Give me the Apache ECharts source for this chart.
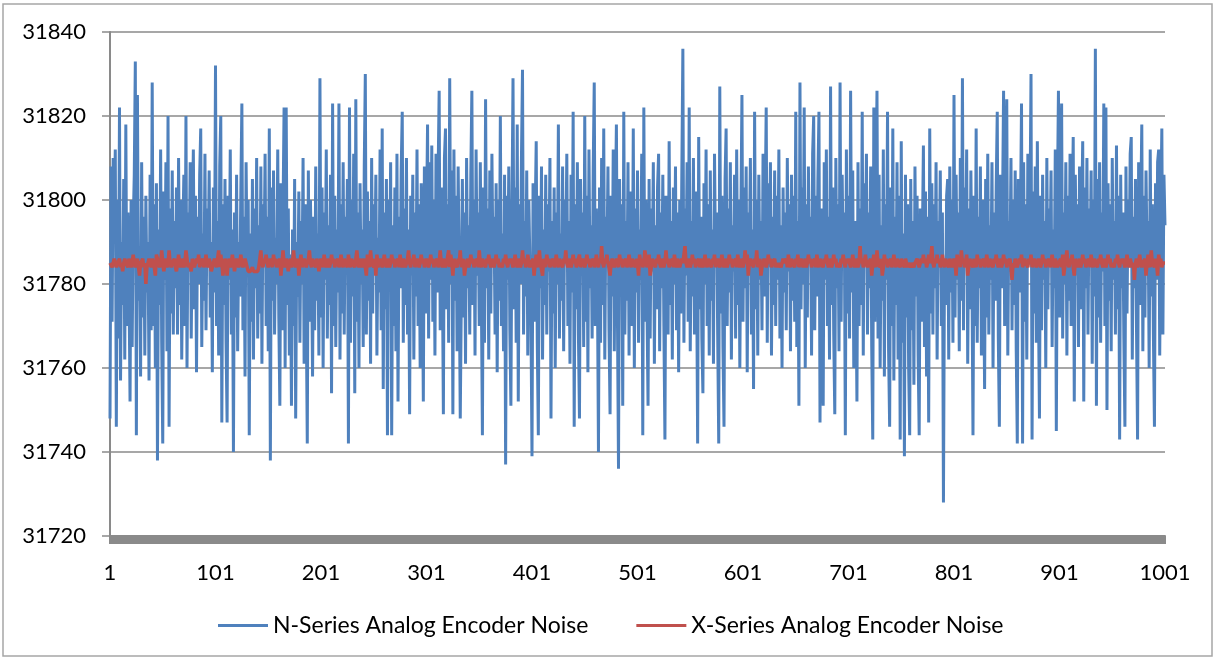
<!DOCTYPE html>
<html>
<head>
<meta charset="utf-8">
<script src="https://cdn.jsdelivr.net/npm/echarts@6/dist/echarts.min.js"></script>
<style>
html,body{margin:0;padding:0;background:#fff;}
#chart{width:1215px;height:659px;}
</style>
</head>
<body>
<div id="chart"></div>
<script>
const seriesNames = ['N-Series Analog Encoder Noise', 'X-Series Analog Encoder Noise'];
const yTicks = [31720, 31740, 31760, 31780, 31800, 31820, 31840];
const sampleCount = 1001;
const categories = [];
for (let i = 1; i <= sampleCount; i++) categories.push(String(i));

const nSeries = [
31748,31808,31771,31810,31795,31812,31746,31800,31767,31822,31757,31790,31775,31805,31762,31818,31770,31797,31780,31752,
31800,31765,31794,31806,31833,31744,31825,31776,31789,31758,31809,31772,31796,31763,31801,31778,31790,31757,31806,31769,
31828,31770,31799,31760,31804,31738,31793,31775,31812,31766,31742,31802,31781,31809,31764,31820,31746,31798,31773,31807,
31768,31795,31779,31803,31768,31810,31775,31800,31762,31791,31806,31770,31820,31760,31797,31783,31809,31767,31794,31812,
31774,31801,31759,31796,31780,31806,31817,31765,31792,31776,31811,31769,31798,31784,31807,31772,31790,31759,31803,31778,
31832,31770,31795,31763,31808,31820,31747,31799,31775,31805,31766,31747,31801,31781,31812,31768,31793,31740,31797,31772,
31806,31764,31790,31777,31802,31823,31769,31796,31758,31809,31783,31800,31744,31792,31771,31805,31762,31798,31779,31810,
31767,31794,31773,31808,31761,31799,31785,31811,31770,31796,31764,31817,31738,31803,31776,31807,31768,31791,31780,31812,
31772,31751,31804,31769,31797,31822,31760,31822,31775,31798,31763,31787,31751,31793,31770,31805,31748,31790,31777,31802,
31766,31795,31780,31810,31761,31799,31774,31742,31807,31771,31800,31785,31758,31796,31769,31808,31776,31792,31763,31829,
31772,31803,31760,31797,31781,31812,31767,31794,31775,31806,31754,31823,31770,31801,31765,31793,31778,31823,31762,31799,
31773,31809,31768,31796,31784,31805,31742,31822,31766,31800,31777,31811,31754,31824,31771,31797,31760,31804,31780,31793,
31765,31808,31830,31768,31802,31776,31795,31761,31810,31773,31799,31784,31806,31763,31791,31778,31812,31769,31817,31755,
31797,31774,31805,31744,31800,31781,31809,31744,31794,31770,31803,31764,31811,31752,31796,31779,31807,31821,31766,31798,
31775,31810,31768,31793,31749,31801,31782,31806,31762,31797,31777,31812,31770,31799,31760,31804,31786,31752,31808,31773,
31795,31818,31767,31809,31781,31813,31771,31800,31763,31811,31778,31806,31826,31769,31803,31785,31749,31810,31817,31774,
31799,31766,31829,31780,31807,31749,31812,31776,31801,31764,31808,31783,31748,31748,31805,31772,31797,31761,31810,31779,
31794,31768,31806,31826,31775,31800,31763,31812,31782,31797,31770,31809,31777,31744,31803,31766,31824,31779,31798,31762,
31807,31773,31811,31785,31796,31768,31804,31759,31800,31776,31820,31770,31792,31764,31806,31737,31801,31781,31808,31769,
31751,31797,31829,31774,31803,31766,31818,31752,31799,31780,31810,31831,31768,31795,31777,31807,31763,31800,31785,31772,
31739,31804,31771,31796,31814,31766,31744,31801,31779,31808,31762,31793,31775,31806,31768,31799,31783,31810,31748,31795,
31773,31803,31760,31797,31780,31818,31767,31792,31776,31808,31764,31800,31786,31811,31770,31795,31761,31806,31778,31821,
31746,31799,31774,31809,31768,31748,31805,31782,31797,31765,31820,31771,31801,31759,31812,31779,31794,31767,31807,31828,
31770,31798,31781,31740,31803,31766,31810,31775,31817,31762,31796,31784,31808,31769,31749,31801,31777,31812,31764,31797,
31818,31772,31736,31805,31780,31799,31751,31821,31768,31795,31776,31809,31763,31802,31785,31770,31817,31760,31798,31778,
31807,31766,31793,31781,31811,31744,31822,31771,31800,31775,31751,31805,31767,31798,31783,31809,31761,31794,31774,31803,
31811,31764,31797,31779,31806,31770,31743,31801,31785,31768,31814,31775,31795,31762,31803,31780,31808,31769,31797,31759,
31800,31773,31806,31836,31766,31798,31782,31809,31771,31822,31764,31795,31777,31810,31768,31802,31785,31742,31815,31774,
31796,31767,31754,31804,31780,31812,31770,31799,31763,31807,31776,31793,31761,31811,31784,31797,31768,31742,31827,31773,
31801,31765,31746,31805,31817,31770,31798,31778,31809,31762,31794,31783,31806,31767,31812,31775,31800,31760,31796,31825,
31771,31803,31779,31808,31759,31797,31785,31810,31768,31793,31755,31821,31774,31800,31763,31806,31781,31795,31769,31811,
31777,31798,31822,31766,31804,31784,31809,31763,31796,31775,31807,31770,31801,31781,31812,31767,31794,31760,31803,31778,
31797,31769,31810,31783,31799,31764,31806,31776,31801,31771,31821,31765,31795,31751,31828,31774,31803,31780,31822,31760,
31799,31772,31808,31785,31796,31763,31811,31820,31769,31801,31777,31805,31821,31747,31798,31766,31751,31809,31781,31812,
31770,31796,31762,31827,31775,31803,31768,31749,31810,31779,31799,31764,31828,31771,31806,31784,31797,31744,31812,31773,
31801,31767,31826,31778,31807,31760,31795,31782,31752,31809,31770,31798,31775,31821,31763,31804,31786,31811,31768,31797,
31779,31808,31765,31743,31822,31771,31800,31826,31767,31806,31760,31794,31776,31812,31758,31799,31781,31821,31764,31746,
31803,31770,31817,31757,31796,31775,31809,31762,31801,31743,31814,31766,31792,31739,31806,31772,31799,31760,31744,31805,
31769,31795,31756,31808,31777,31801,31763,31744,31798,31771,31790,31813,31765,31802,31758,31796,31747,31817,31773,31804,
31768,31799,31779,31809,31762,31795,31784,31807,31770,31797,31728,31786,31775,31801,31805,31762,31808,31778,31800,31766,
31825,31772,31806,31781,31797,31764,31810,31776,31829,31769,31803,31785,31812,31761,31798,31774,31807,31783,31744,31801,
31770,31817,31766,31796,31779,31808,31763,31800,31787,31755,31805,31772,31811,31768,31794,31781,31809,31760,31797,31776,
31803,31821,31767,31746,31806,31779,31798,31826,31770,31801,31824,31763,31795,31783,31810,31769,31800,31775,31807,31764,
31742,31805,31778,31796,31823,31742,31809,31771,31799,31762,31811,31785,31797,31830,31743,31802,31773,31808,31766,31814,
31777,31748,31801,31769,31806,31781,31795,31760,31810,31774,31798,31786,31807,31765,31793,31779,31812,31745,31800,31826,
31772,31804,31823,31767,31797,31780,31809,31763,31801,31776,31811,31770,31795,31815,31752,31806,31782,31799,31765,31808,
31774,31796,31814,31752,31803,31779,31810,31768,31798,31785,31807,31761,31800,31777,31836,31751,31805,31772,31809,31766,
31797,31783,31823,31770,31822,31750,31804,31776,31799,31764,31810,31781,31795,31768,31813,31774,31801,31743,31806,31779,
31797,31767,31746,31808,31773,31800,31784,31811,31815,31762,31796,31779,31805,31769,31743,31809,31775,31798,31818,31764,
31801,31772,31807,31786,31795,31760,31812,31777,31799,31768,31746,31804,31781,31809,31812,31763,31797,31817,31768,31806,
31794
];

const xSeries = [
31785,31785,31784,31785,31786,31785,31784,31785,31785,31786,31784,31785,31783,31785,31786,31785,31785,31784,31786,31785,
31784,31785,31787,31785,31784,31785,31786,31784,31782,31785,31785,31786,31784,31785,31780,31784,31785,31786,31785,31784,
31786,31785,31784,31782,31787,31786,31785,31784,31785,31788,31785,31783,31785,31786,31784,31785,31788,31785,31784,31785,
31785,31786,31784,31783,31785,31787,31785,31784,31786,31785,31784,31785,31788,31786,31784,31785,31785,31783,31786,31785,
31784,31785,31786,31785,31787,31784,31785,31785,31786,31784,31785,31787,31785,31784,31786,31785,31783,31784,31785,31786,
31785,31784,31786,31788,31784,31787,31785,31782,31784,31786,31785,31782,31785,31786,31784,31785,31787,31785,31783,31785,
31786,31785,31784,31785,31787,31785,31784,31785,31786,31785,31784,31783,31783,31783,31783,31784,31783,31783,31783,31783,
31783,31784,31786,31788,31785,31784,31786,31785,31787,31785,31784,31785,31786,31785,31784,31787,31785,31786,31784,31785,
31785,31786,31782,31785,31788,31785,31784,31786,31785,31783,31785,31786,31784,31785,31788,31785,31784,31785,31786,31782,
31785,31787,31784,31785,31786,31785,31784,31785,31786,31788,31785,31784,31786,31785,31785,31784,31786,31785,31783,31785,
31786,31785,31784,31787,31785,31784,31786,31785,31784,31785,31787,31785,31786,31784,31785,31785,31786,31784,31785,31787,
31785,31784,31786,31785,31785,31784,31787,31785,31784,31786,31785,31785,31784,31786,31788,31785,31784,31785,31786,31784,
31785,31786,31784,31782,31787,31785,31784,31788,31785,31785,31784,31786,31782,31787,31784,31785,31786,31785,31784,31785,
31787,31785,31784,31786,31785,31784,31785,31787,31785,31786,31784,31785,31785,31786,31784,31787,31785,31784,31786,31785,
31784,31785,31786,31788,31785,31784,31786,31785,31787,31784,31785,31786,31785,31784,31785,31787,31785,31786,31784,31785,
31786,31785,31784,31785,31787,31785,31786,31784,31785,31785,31786,31784,31785,31788,31785,31784,31786,31785,31784,31785,
31785,31788,31784,31787,31785,31782,31786,31785,31785,31784,31786,31785,31788,31784,31785,31786,31782,31784,31785,31786,
31784,31785,31787,31785,31786,31784,31785,31785,31786,31784,31788,31785,31784,31786,31785,31785,31784,31786,31785,31787,
31785,31784,31786,31785,31784,31785,31787,31785,31786,31784,31785,31785,31784,31786,31785,31787,31785,31784,31786,31785,
31786,31785,31784,31785,31787,31785,31784,31786,31785,31784,31785,31788,31785,31786,31784,31785,31787,31785,31784,31785,
31785,31786,31782,31785,31787,31785,31784,31788,31785,31785,31782,31786,31785,31784,31787,31785,31786,31784,31785,31785,
31786,31784,31785,31787,31785,31784,31786,31785,31785,31784,31786,31785,31788,31785,31784,31786,31785,31784,31785,31787,
31785,31786,31784,31785,31785,31787,31784,31785,31786,31785,31784,31785,31787,31785,31786,31784,31785,31785,31786,31784,
31785,31787,31785,31784,31786,31785,31789,31785,31784,31786,31785,31787,31785,31784,31782,31785,31786,31785,31784,31785,
31786,31785,31784,31787,31785,31786,31784,31785,31785,31786,31784,31785,31787,31785,31784,31786,31785,31785,31784,31786,
31785,31782,31787,31785,31786,31784,31785,31788,31786,31784,31785,31787,31782,31784,31786,31785,31785,31784,31786,31785,
31787,31785,31784,31786,31785,31784,31785,31788,31785,31786,31784,31785,31785,31786,31784,31787,31785,31784,31786,31785,
31784,31785,31786,31785,31787,31789,31785,31784,31786,31785,31784,31785,31787,31785,31786,31784,31785,31785,31786,31784,
31785,31786,31784,31785,31787,31785,31784,31786,31785,31785,31784,31786,31785,31787,31784,31785,31786,31785,31784,31785,
31787,31785,31784,31786,31785,31784,31785,31787,31785,31786,31784,31785,31785,31786,31784,31787,31785,31784,31786,31785,
31784,31785,31788,31785,31787,31782,31785,31786,31785,31785,31784,31786,31785,31788,31784,31785,31786,31782,31784,31785,
31786,31785,31784,31785,31787,31785,31786,31784,31785,31785,31786,31784,31785,31784,31785,31785,31784,31785,31786,31785,
31785,31786,31784,31787,31785,31784,31786,31785,31785,31784,31786,31785,31787,31784,31785,31786,31785,31784,31785,31786,
31784,31785,31787,31785,31786,31784,31785,31785,31786,31784,31787,31785,31784,31786,31785,31785,31784,31786,31785,31787,
31785,31784,31786,31785,31784,31785,31787,31785,31786,31784,31785,31785,31784,31786,31785,31787,31785,31784,31786,31785,
31786,31785,31784,31785,31787,31785,31784,31786,31785,31784,31785,31789,31785,31786,31784,31785,31787,31785,31784,31785,
31785,31786,31782,31785,31787,31785,31784,31788,31785,31785,31784,31786,31782,31784,31787,31785,31786,31784,31785,31785,
31786,31784,31785,31787,31785,31784,31786,31785,31785,31784,31786,31785,31785,31784,31786,31785,31784,31785,31785,31784,
31785,31785,31784,31785,31785,31786,31785,31784,31785,31786,31785,31787,31785,31786,31784,31785,31787,31785,31786,31789,
31785,31784,31786,31785,31787,31785,31786,31784,31785,31787,31785,31784,31786,31785,31785,31784,31786,31785,31784,31785,
31786,31785,31782,31787,31785,31786,31784,31788,31785,31786,31784,31785,31787,31782,31784,31786,31785,31785,31784,31786,
31785,31784,31787,31785,31786,31784,31785,31785,31786,31784,31785,31787,31785,31784,31786,31785,31785,31784,31786,31785,
31787,31785,31784,31786,31785,31784,31785,31787,31785,31786,31784,31785,31785,31786,31784,31781,31785,31784,31786,31785,
31784,31785,31786,31785,31787,31784,31785,31786,31785,31785,31784,31786,31785,31787,31784,31785,31786,31785,31784,31785,
31786,31785,31784,31785,31787,31785,31786,31784,31785,31785,31786,31784,31785,31787,31785,31784,31786,31785,31784,31785,
31785,31786,31784,31787,31782,31784,31786,31788,31785,31784,31786,31785,31787,31784,31782,31786,31785,31784,31785,31786,
31784,31785,31787,31785,31786,31784,31785,31785,31786,31784,31787,31785,31784,31786,31785,31785,31784,31786,31785,31787,
31785,31784,31786,31785,31784,31785,31787,31785,31786,31784,31785,31785,31784,31786,31785,31787,31785,31784,31786,31785,
31786,31785,31784,31785,31787,31785,31784,31786,31785,31784,31785,31781,31785,31786,31784,31785,31787,31785,31784,31785,
31785,31786,31782,31785,31787,31785,31784,31788,31785,31785,31784,31786,31785,31782,31787,31785,31786,31784,31785,31785,
31785
];

const FONT = 'Lato';
const chart = echarts.init(document.getElementById('chart'), null, {renderer: 'canvas'});
chart.setOption({
  animation: false,
  backgroundColor: '#ffffff',
  graphic: [{
    type: 'rect', silent: true,
    shape: {x: 3, y: 4, width: 1209, height: 652},
    style: {fill: 'none', stroke: '#a6a6a6', lineWidth: 1.5}
  }],
  grid: {left: 110, right: 50, top: 32, bottom: 123, containLabel: false},
  legend: {
    data: seriesNames,
    left: 213, top: 609,
    itemWidth: 50, itemHeight: 3, itemGap: 48,
    icon: 'rect',
    textStyle: {fontFamily: FONT, fontSize: 23, color: '#000'}
  },
  xAxis: {
    type: 'category',
    data: categories,
    boundaryGap: false,
    axisLine: {lineStyle: {color: '#8a8a8a', width: 2}},
    axisTick: {show: true, interval: 0, length: 8, lineStyle: {color: '#8a8a8a', width: 2}},
    axisLabel: {interval: 99, margin: 26, fontFamily: FONT, fontSize: 22, color: '#000', showMaxLabel: true},
    splitLine: {show: false}
  },
  yAxis: {
    type: 'value',
    min: yTicks[0], max: yTicks[yTicks.length - 1], interval: 20,
    axisLine: {show: true, lineStyle: {color: '#8a8a8a', width: 2}},
    axisTick: {show: true, length: 8, lineStyle: {color: '#8a8a8a', width: 1.5}},
    axisLabel: {margin: 24, fontFamily: FONT, fontSize: 22, color: '#000', formatter: function (v) { return String(v); }},
    splitLine: {show: true, lineStyle: {color: '#8a8a8a', width: 1.5}}
  },
  series: [
    {name: seriesNames[0], type: 'line', data: nSeries, showSymbol: false, symbol: 'none',
     lineStyle: {color: '#4F81BD', width: 3}, itemStyle: {color: '#4F81BD'}, z: 2},
    {name: seriesNames[1], type: 'line', data: xSeries, showSymbol: false, symbol: 'none',
     lineStyle: {color: '#C0504D', width: 3.5}, itemStyle: {color: '#C0504D'}, z: 3}
  ]
});
</script>
</body>
</html>
